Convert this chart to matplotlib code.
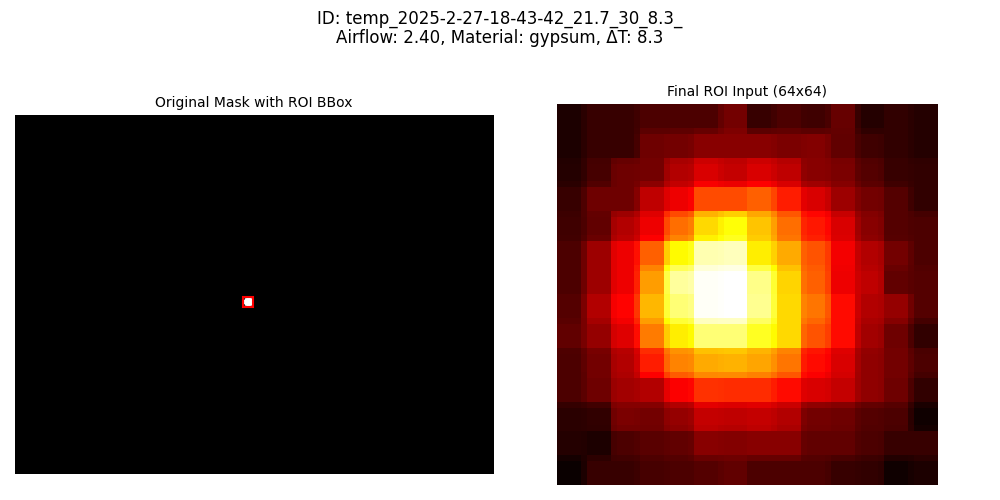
import matplotlib
matplotlib.use("Agg")
import matplotlib.pyplot as plt
import matplotlib.patches as patches
import numpy as np

sample_id = "temp_2025-2-27-18-43-42_21.7_30_8.3_"
airflow = 2.40
material = "gypsum"
delta_t = 8.3

# mask size (w, h) and roi bbox (x, y, w, h) in mask pixels
mask_w, mask_h = 640, 480
bbox = (306, 244, 12, 12)
blob = [
    "...######...",
    ".##########.",
    ".##########.",
    "############",
    "############",
    "############",
    "############",
    "############",
    "############",
    ".##########.",
    ".##########.",
    "...######...",
]

# 14x14 roi (normalised temperature) before resizing to 64x64
roi = np.array([
    [0.03, 0.07, 0.07, 0.10, 0.10, 0.10, 0.16, 0.07, 0.10, 0.08, 0.14, 0.04, 0.06, 0.04],
    [0.03, 0.07, 0.07, 0.15, 0.16, 0.19, 0.19, 0.19, 0.17, 0.18, 0.13, 0.08, 0.06, 0.04],
    [0.04, 0.09, 0.15, 0.16, 0.25, 0.31, 0.28, 0.31, 0.27, 0.19, 0.17, 0.11, 0.07, 0.06],
    [0.07, 0.15, 0.15, 0.27, 0.34, 0.48, 0.48, 0.51, 0.41, 0.31, 0.22, 0.16, 0.11, 0.06],
    [0.08, 0.13, 0.25, 0.34, 0.53, 0.69, 0.75, 0.66, 0.53, 0.40, 0.31, 0.19, 0.11, 0.10],
    [0.10, 0.22, 0.34, 0.51, 0.74, 0.92, 0.93, 0.72, 0.62, 0.49, 0.35, 0.25, 0.16, 0.10],
    [0.10, 0.22, 0.34, 0.60, 0.90, 0.99, 1.00, 0.88, 0.68, 0.51, 0.34, 0.27, 0.13, 0.11],
    [0.11, 0.25, 0.37, 0.64, 0.86, 0.99, 1.00, 0.89, 0.69, 0.54, 0.38, 0.25, 0.21, 0.11],
    [0.13, 0.21, 0.32, 0.55, 0.72, 0.86, 0.86, 0.78, 0.69, 0.49, 0.38, 0.23, 0.15, 0.06],
    [0.10, 0.16, 0.25, 0.41, 0.56, 0.62, 0.63, 0.61, 0.54, 0.38, 0.31, 0.20, 0.16, 0.10],
    [0.10, 0.15, 0.23, 0.25, 0.36, 0.44, 0.43, 0.43, 0.38, 0.31, 0.28, 0.20, 0.15, 0.06],
    [0.05, 0.06, 0.17, 0.16, 0.21, 0.28, 0.27, 0.28, 0.25, 0.16, 0.15, 0.11, 0.10, 0.01],
    [0.04, 0.03, 0.10, 0.12, 0.13, 0.19, 0.18, 0.19, 0.19, 0.13, 0.13, 0.10, 0.07, 0.07],
    [0.00, 0.07, 0.07, 0.09, 0.10, 0.11, 0.13, 0.10, 0.10, 0.10, 0.07, 0.06, 0.01, 0.03],
])
out_size = 64


def area_resize(a, n):
    # like cv2 INTER_AREA when upscaling
    m = a.shape[0]
    edges = np.arange(n + 1) * m / n
    W = np.zeros((n, m))
    for i in range(n):
        lo, hi = edges[i], edges[i + 1]
        for k in range(m):
            W[i, k] = max(0.0, min(hi, k + 1) - max(lo, k))
    W /= m / n
    return W @ a @ W.T


mask = np.zeros((mask_h, mask_w))
for r, row in enumerate(blob):
    for c, ch in enumerate(row):
        if ch == "#":
            mask[bbox[1] + r, bbox[0] + c] = 1.0

roi64 = area_resize(roi, out_size)

fig, axes = plt.subplots(1, 2, figsize=(10, 5), dpi=100)
fig.subplots_adjust(left=0.015, right=0.9865, bottom=0.03, top=0.792, wspace=0.031)
fig.suptitle(f"ID: {sample_id}\nAirflow: {airflow:.2f}, Material: {material}, ΔT: {delta_t}",
             linespacing=1.05)

axes[0].imshow(mask, cmap="gray")
rect = patches.Rectangle((bbox[0] - 1, bbox[1] - 1), bbox[2] + 1, bbox[3] + 1,
                         linewidth=1.5, edgecolor="red", facecolor="none")
axes[0].add_patch(rect)
axes[0].set_title("Original Mask with ROI BBox", fontsize=10)
axes[0].axis("off")

axes[1].imshow(roi64, cmap="hot")
axes[1].set_title(f"Final ROI Input ({out_size}x{out_size})", fontsize=10)
axes[1].axis("off")

plt.savefig("out.png")
